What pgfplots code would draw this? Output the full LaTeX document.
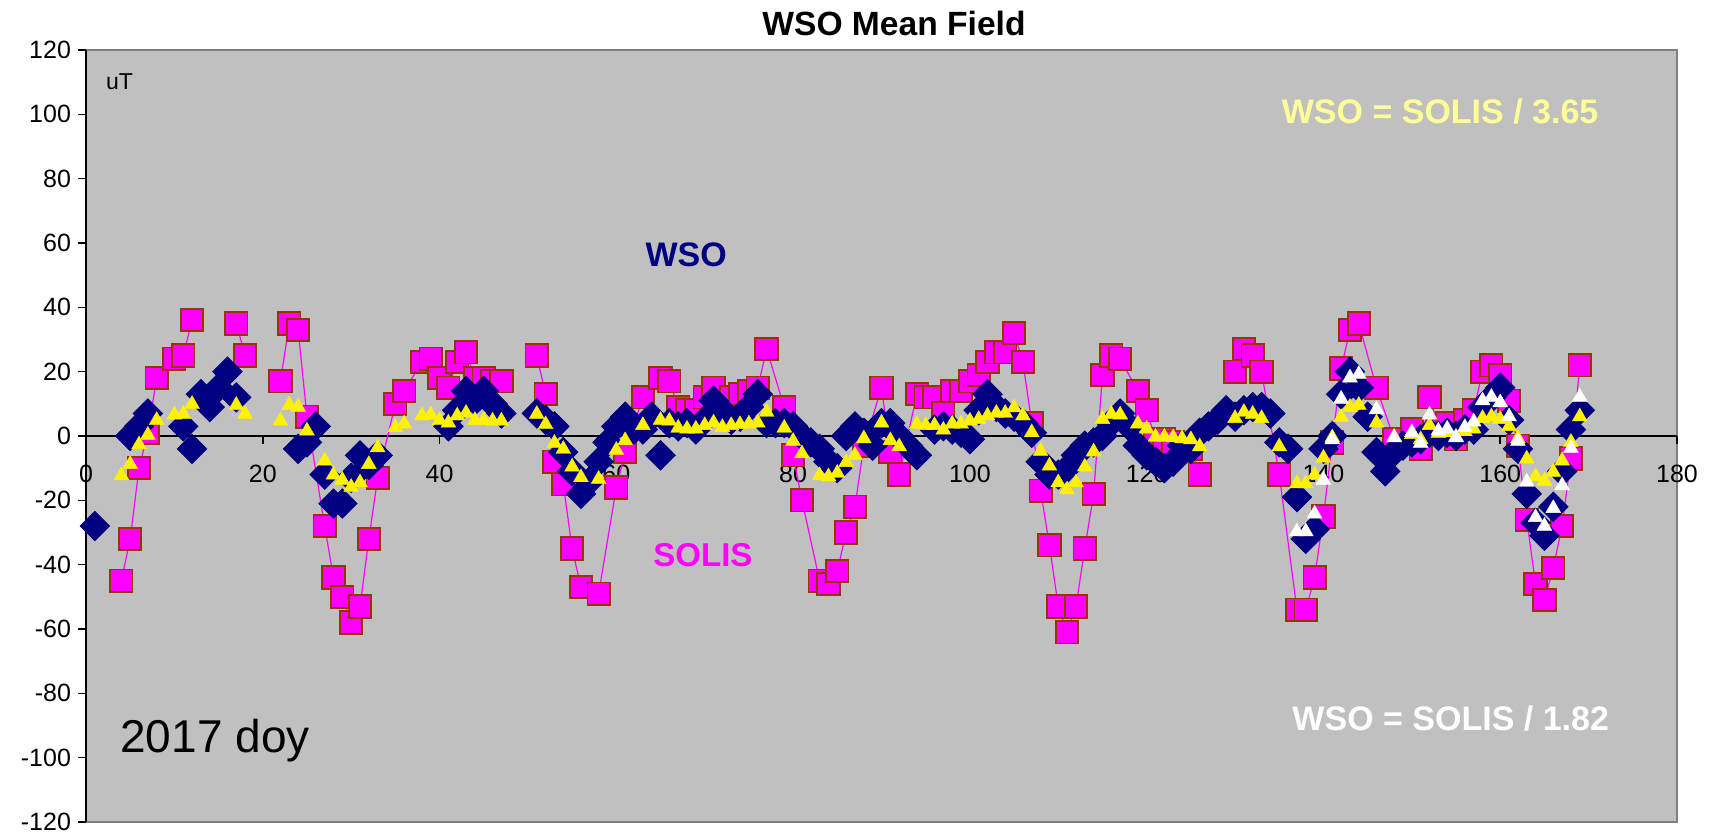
\documentclass[border=0pt]{standalone}
\usepackage{fontspec}
\setmainfont{Liberation Sans}
\usepackage{pgfplots}
\pgfplotsset{compat=1.18}
\definecolor{plotbg}{HTML}{C0C0C0}
\definecolor{navyc}{HTML}{000080}
\definecolor{magc}{HTML}{FF00FF}
\definecolor{brownc}{HTML}{993300}
\definecolor{lyellow}{HTML}{FFFF99}
\definecolor{framegray}{HTML}{808080}
\begin{document}
\begin{tikzpicture}
\path[use as bounding box] (-43pt,-6.5pt) rectangle (814.5pt,411pt);
\begin{axis}[
  at={(0,0)}, anchor=south west,
  scale only axis, width=795.5pt, height=386pt,
  xmin=0, xmax=180, ymin=-120, ymax=120,
  axis x line=middle, axis y line=left,
  axis line style={-, black, line width=0.8pt},
  axis background/.style={fill=plotbg, draw=framegray, line width=1pt},
  xtick={0,20,...,180}, ytick={-120,-100,...,120},
  hide obscured x ticks=false,
  tick align=outside, major tick length=4pt,
  tick style={black, line width=0.8pt},
  ticklabel style={font=\fontsize{12.5}{14}\selectfont},
  /pgf/number format/assume math mode=true,
  x tick label style={yshift=-7pt},
  clip=false,
  unbounded coords=jump,
]
% SOLIS
\addplot[magc, line width=0.6pt, mark=square*, mark size=5.6pt,
  mark options={solid, fill=magc, draw=brownc, line width=0.9pt}] table {
x y
4 -45
5 -32
6 -10
7 1
8 18
10 24
11 25
12 36
14 nan
17 35
18 25
20 nan
22 17
23 35
24 33
25 6
27 -28
28 -44
29 -50
30 -58
31 -53
32 -32
33 -13
35 10
36 14
38 23
39 24
40 18
41 15
42 23
43 26
44 18
45 18
46 17
47 17
49 nan
51 25
52 13
53 -8
54 -15
55 -35
56 -47
58 -49
60 -16
61 -5
63 12
65 18
66 17
67 9
68 8
69 8
70 12
71 15
72 10
73 12
74 13
75 14
76 15
77 27
79 9
80 -6
81 -20
83 -45
84 -46
85 -42
86 -30
87 -22
88 -3
90 15
91 -5
92 -12
94 13
95 12
96 12
97 7
98 14
99 14
100 17
101 19
102 23
103 26
104 26
105 32
106 23
107 4
108 -17
109 -34
110 -53
111 -61
112 -53
113 -35
114 -18
115 19
116 25
117 24
119 14
120 8
121 -1
122 -1
123 -2
124 -3
125 -4
126 -12
128 nan
130 20
131 27
132 25
133 20
135 -12
137 -54
138 -54
139 -44
140 -25
141 -2
142 21
143 33
144 35
146 15
148 -1
150 2
151 -4
152 12
153 3
154 4
155 -1
156 5
157 8
158 20
159 22
160 19
161 11
162 -3
163 -26
164 -46
165 -51
166 -41
167 -28
168 -7
169 22
};
% WSO
\addplot[only marks, navyc, mark=square*, mark size=5.2pt,
  mark options={rotate=45, fill=navyc, draw=navyc}] table {
x y
1 -28
5 0
6 3
7 7
11 3
12 -4
13 13
14 9
15 15
16 20
17 12
24 -4
25 -2
26 3
27 -12
28 -21
29 -21
30 -13
31 -6
32 -9
33 -6
41 3
42 8
43 14
44 11
45 14
46 10
47 7
51 7
52 5
53 3
54 -5
55 -11
56 -18
57 -14
58 -8
59 -2
60 3
61 6
62 2
63 2
64 6
65 -6
66 4
67 3
68 4
69 2
70 5
71 11
72 8
73 5
74 6
75 9
76 13
77 4
78 4
79 4
80 3
81 0
82 -2
83 -4
84 -8
85 -10
86 0
87 3
88 1
89 -3
90 4
91 4
92 0
93 -3
94 -6
96 2
97 3
98 2
99 1
100 -1
101 8
102 13
103 9
104 7
105 6
106 4
107 1
108 -8
109 -12
110 -12
111 -10
112 -6
113 -3
114 -2
115 0
116 4
117 7
118 3
119 -3
120 -6
121 -8
122 -10
123 -8
124 -3
125 -4
126 1
127 3
128 5
129 8
130 6
131 8
132 9
133 9
134 7
135 -2
136 -4
137 -19
138 -32
139 -29
140 -4
141 0
142 13
143 20
144 15
145 6
146 -5
147 -11
148 -5
149 -3
150 -2
151 -1
152 1
153 0
154 1
155 0
156 2
157 2
158 9
159 12
160 15
161 5
162 -4
163 -18
164 -27
165 -31
166 -22
167 -11
168 2
169 8
};
% SOLIS / 3.65
\addplot[only marks, mark=triangle*, mark size=4.3pt,
  mark options={fill=yellow, draw=yellow, line width=0.2pt}] table {
x y
4 -12.3
5 -8.8
6 -2.7
7 0.3
8 4.9
10 6.6
11 6.8
12 9.9
17 9.6
18 6.8
22 4.7
23 9.6
24 9.0
25 1.6
27 -7.7
28 -12.1
29 -13.7
30 -15.9
31 -14.5
32 -8.8
33 -3.6
35 2.7
36 3.8
38 6.3
39 6.6
40 4.9
41 4.1
42 6.3
43 7.1
44 4.9
45 4.9
46 4.7
47 4.7
51 6.8
52 3.6
53 -2.2
54 -4.1
55 -9.6
56 -12.9
58 -13.4
60 -4.4
61 -1.4
63 3.3
65 4.9
66 4.7
67 2.5
68 2.2
69 2.2
70 3.3
71 4.1
72 2.7
73 3.3
74 3.6
75 3.8
76 4.1
77 7.4
79 2.5
80 -1.6
81 -5.5
83 -12.3
84 -12.6
85 -11.5
86 -8.2
87 -6.0
88 -0.8
90 4.1
91 -1.4
92 -3.3
94 3.6
95 3.3
96 3.3
97 1.9
98 3.8
99 3.8
100 4.7
101 5.2
102 6.3
103 7.1
104 7.1
105 8.8
106 6.3
107 1.1
108 -4.7
109 -9.3
110 -14.5
111 -16.7
112 -14.5
113 -9.6
114 -4.9
115 5.2
116 6.8
117 6.6
119 3.8
120 2.2
121 -0.3
122 -0.3
123 -0.5
124 -0.8
125 -1.1
126 -3.3
130 5.5
131 7.4
132 6.8
133 5.5
135 -3.3
137 -14.8
138 -14.8
139 -12.1
140 -6.8
141 -0.5
142 5.8
143 9.0
144 9.6
146 4.1
148 -0.3
150 0.5
151 -1.1
152 3.3
153 0.8
154 1.1
155 -0.3
156 1.4
157 2.2
158 5.5
159 6.0
160 5.2
161 3.0
162 -0.8
163 -7.1
164 -12.6
165 -14.0
166 -11.2
167 -7.7
168 -1.9
169 6.0
};
% SOLIS / 1.82
\addplot[only marks, mark=triangle*, mark size=4.3pt,
  mark options={fill=white, draw=white, line width=0.2pt}] table {
x y
137 -29.7
138 -29.7
139 -24.2
140 -13.7
141 -1.1
142 11.5
143 18.1
144 19.2
146 8.2
148 -0.5
150 1.1
151 -2.2
152 6.6
153 1.6
154 2.2
155 -0.5
156 2.7
157 4.4
158 11.0
159 12.1
160 10.4
161 6.0
162 -1.6
163 -14.3
164 -25.3
165 -28.0
166 -22.5
167 -15.4
168 -3.8
169 12.1
};
\node[anchor=base, font=\fontsize{11.5}{13}\selectfont] at (axis cs:3.8,107.6) {uT};
\node[anchor=base, font=\bfseries\fontsize{17}{20}\selectfont, text=navyc] at (axis cs:67.9,52.7) {WSO};
\node[anchor=base, font=\bfseries\fontsize{16.5}{20}\selectfont, text=magc] at (axis cs:69.8,-40.6) {SOLIS};
\node[anchor=base, font=\bfseries\fontsize{17}{20}\selectfont, text=lyellow] at (axis cs:153.2,97.1) {WSO = SOLIS / 3.65};
\node[anchor=base, font=\bfseries\fontsize{17}{20}\selectfont, text=white] at (axis cs:154.4,-91.5) {WSO = SOLIS / 1.82};
\node[anchor=base, font=\fontsize{23}{26}\selectfont] at (axis cs:14.6,-98.3) {2017 doy};
\end{axis}
\node[anchor=base, font=\bfseries\fontsize{16.8}{20}\selectfont] at (404pt,393pt) {WSO Mean Field};
\end{tikzpicture}
\end{document}
